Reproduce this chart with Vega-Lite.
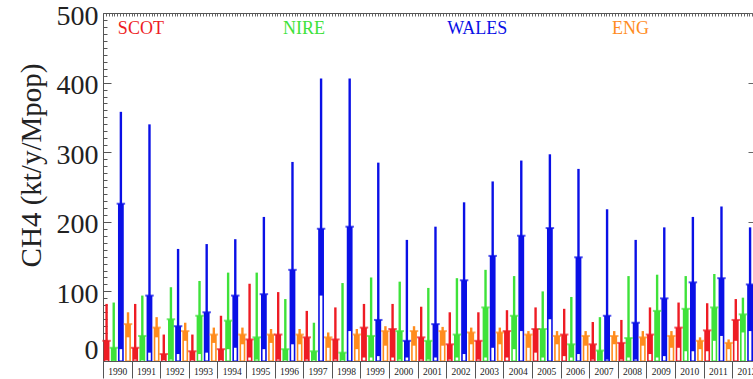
{
  "$schema": "https://vega.github.io/schema/vega-lite/v6.json",
  "autosize": "none",
  "width": 650,
  "height": 348,
  "padding": {"left": 103, "top": 13, "right": 0, "bottom": 18},
  "background": "white",
  "config": {"view": {"stroke": null}, "axis": {"grid": false}},
  "datasets": {
    "ch4": [
      {"year": 1990, "series": "SCOT", "hi": 82, "q1": 0, "q3": 29},
      {"year": 1990, "series": "NIRE", "hi": 84, "q1": 1, "q3": 19},
      {"year": 1990, "series": "WALES", "hi": 358, "q1": 17, "q3": 226},
      {"year": 1990, "series": "ENG", "hi": 70, "q1": 34, "q3": 53},
      {"year": 1991, "series": "SCOT", "hi": 82, "q1": 2, "q3": 19},
      {"year": 1991, "series": "NIRE", "hi": 94, "q1": 0, "q3": 36},
      {"year": 1991, "series": "WALES", "hi": 340, "q1": 12, "q3": 94},
      {"year": 1991, "series": "ENG", "hi": 63, "q1": 34, "q3": 48},
      {"year": 1992, "series": "SCOT", "hi": 38, "q1": 0, "q3": 10},
      {"year": 1992, "series": "NIRE", "hi": 106, "q1": 2, "q3": 60},
      {"year": 1992, "series": "WALES", "hi": 161, "q1": 10, "q3": 50},
      {"year": 1992, "series": "ENG", "hi": 55, "q1": 29, "q3": 43},
      {"year": 1993, "series": "SCOT", "hi": 38, "q1": 0, "q3": 14},
      {"year": 1993, "series": "NIRE", "hi": 115, "q1": 10, "q3": 65},
      {"year": 1993, "series": "WALES", "hi": 168, "q1": 12, "q3": 70},
      {"year": 1993, "series": "ENG", "hi": 48, "q1": 26, "q3": 38},
      {"year": 1994, "series": "SCOT", "hi": 65, "q1": 0, "q3": 17},
      {"year": 1994, "series": "NIRE", "hi": 127, "q1": 17, "q3": 58},
      {"year": 1994, "series": "WALES", "hi": 175, "q1": 19, "q3": 94},
      {"year": 1994, "series": "ENG", "hi": 48, "q1": 24, "q3": 38},
      {"year": 1995, "series": "SCOT", "hi": 111, "q1": 5, "q3": 31},
      {"year": 1995, "series": "NIRE", "hi": 127, "q1": 2, "q3": 34},
      {"year": 1995, "series": "WALES", "hi": 207, "q1": 17, "q3": 96},
      {"year": 1995, "series": "ENG", "hi": 46, "q1": 26, "q3": 38},
      {"year": 1996, "series": "SCOT", "hi": 99, "q1": 2, "q3": 38},
      {"year": 1996, "series": "NIRE", "hi": 89, "q1": 0, "q3": 17},
      {"year": 1996, "series": "WALES", "hi": 286, "q1": 24, "q3": 131},
      {"year": 1996, "series": "ENG", "hi": 46, "q1": 24, "q3": 38},
      {"year": 1997, "series": "SCOT", "hi": 72, "q1": 2, "q3": 34},
      {"year": 1997, "series": "NIRE", "hi": 55, "q1": 0, "q3": 14},
      {"year": 1997, "series": "WALES", "hi": 406, "q1": 94, "q3": 190},
      {"year": 1997, "series": "ENG", "hi": 41, "q1": 19, "q3": 34},
      {"year": 1998, "series": "SCOT", "hi": 77, "q1": 2, "q3": 31},
      {"year": 1998, "series": "NIRE", "hi": 112, "q1": 0, "q3": 12},
      {"year": 1998, "series": "WALES", "hi": 406, "q1": 43, "q3": 193},
      {"year": 1998, "series": "ENG", "hi": 46, "q1": 17, "q3": 38},
      {"year": 1999, "series": "SCOT", "hi": 82, "q1": 5, "q3": 48},
      {"year": 1999, "series": "NIRE", "hi": 120, "q1": 5, "q3": 36},
      {"year": 1999, "series": "WALES", "hi": 285, "q1": 7, "q3": 59},
      {"year": 1999, "series": "ENG", "hi": 50, "q1": 22, "q3": 43},
      {"year": 2000, "series": "SCOT", "hi": 82, "q1": 5, "q3": 46},
      {"year": 2000, "series": "NIRE", "hi": 114, "q1": 2, "q3": 43},
      {"year": 2000, "series": "WALES", "hi": 174, "q1": 5, "q3": 29},
      {"year": 2000, "series": "ENG", "hi": 50, "q1": 22, "q3": 43},
      {"year": 2001, "series": "SCOT", "hi": 78, "q1": 2, "q3": 34},
      {"year": 2001, "series": "NIRE", "hi": 105, "q1": 2, "q3": 29},
      {"year": 2001, "series": "WALES", "hi": 193, "q1": 5, "q3": 53},
      {"year": 2001, "series": "ENG", "hi": 49, "q1": 22, "q3": 43},
      {"year": 2002, "series": "SCOT", "hi": 70, "q1": 2, "q3": 24},
      {"year": 2002, "series": "NIRE", "hi": 119, "q1": 5, "q3": 38},
      {"year": 2002, "series": "WALES", "hi": 228, "q1": 10, "q3": 116},
      {"year": 2002, "series": "ENG", "hi": 48, "q1": 24, "q3": 41},
      {"year": 2003, "series": "SCOT", "hi": 70, "q1": 2, "q3": 29},
      {"year": 2003, "series": "NIRE", "hi": 131, "q1": 5, "q3": 77},
      {"year": 2003, "series": "WALES", "hi": 258, "q1": 19, "q3": 151},
      {"year": 2003, "series": "ENG", "hi": 48, "q1": 24, "q3": 41},
      {"year": 2004, "series": "SCOT", "hi": 73, "q1": 5, "q3": 43},
      {"year": 2004, "series": "NIRE", "hi": 122, "q1": 17, "q3": 65},
      {"year": 2004, "series": "WALES", "hi": 288, "q1": 43, "q3": 180},
      {"year": 2004, "series": "ENG", "hi": 43, "q1": 19, "q3": 38},
      {"year": 2005, "series": "SCOT", "hi": 77, "q1": 12, "q3": 46},
      {"year": 2005, "series": "NIRE", "hi": 100, "q1": 5, "q3": 46},
      {"year": 2005, "series": "WALES", "hi": 297, "q1": 60, "q3": 191},
      {"year": 2005, "series": "ENG", "hi": 43, "q1": 24, "q3": 36},
      {"year": 2006, "series": "SCOT", "hi": 75, "q1": 7, "q3": 38},
      {"year": 2006, "series": "NIRE", "hi": 92, "q1": 5, "q3": 24},
      {"year": 2006, "series": "WALES", "hi": 276, "q1": 10, "q3": 149},
      {"year": 2006, "series": "ENG", "hi": 43, "q1": 22, "q3": 36},
      {"year": 2007, "series": "SCOT", "hi": 56, "q1": 2, "q3": 24},
      {"year": 2007, "series": "NIRE", "hi": 63, "q1": 1, "q3": 15},
      {"year": 2007, "series": "WALES", "hi": 218, "q1": 2, "q3": 65},
      {"year": 2007, "series": "ENG", "hi": 43, "q1": 24, "q3": 36},
      {"year": 2008, "series": "SCOT", "hi": 59, "q1": 2, "q3": 26},
      {"year": 2008, "series": "NIRE", "hi": 122, "q1": 5, "q3": 33},
      {"year": 2008, "series": "WALES", "hi": 174, "q1": 2, "q3": 55},
      {"year": 2008, "series": "ENG", "hi": 43, "q1": 22, "q3": 34},
      {"year": 2009, "series": "SCOT", "hi": 77, "q1": 10, "q3": 38},
      {"year": 2009, "series": "NIRE", "hi": 124, "q1": 5, "q3": 72},
      {"year": 2009, "series": "WALES", "hi": 192, "q1": 7, "q3": 90},
      {"year": 2009, "series": "ENG", "hi": 43, "q1": 19, "q3": 36},
      {"year": 2010, "series": "SCOT", "hi": 84, "q1": 19, "q3": 48},
      {"year": 2010, "series": "NIRE", "hi": 122, "q1": 14, "q3": 75},
      {"year": 2010, "series": "WALES", "hi": 207, "q1": 14, "q3": 113},
      {"year": 2010, "series": "ENG", "hi": 34, "q1": 17, "q3": 29},
      {"year": 2011, "series": "SCOT", "hi": 83, "q1": 14, "q3": 44},
      {"year": 2011, "series": "NIRE", "hi": 125, "q1": 29, "q3": 77},
      {"year": 2011, "series": "WALES", "hi": 222, "q1": 36, "q3": 119},
      {"year": 2011, "series": "ENG", "hi": 31, "q1": 17, "q3": 26},
      {"year": 2012, "series": "SCOT", "hi": 89, "q1": 29, "q3": 59},
      {"year": 2012, "series": "NIRE", "hi": 91, "q1": 41, "q3": 67},
      {"year": 2012, "series": "WALES", "hi": 192, "q1": 43, "q3": 110}
    ]
  },
  "resolve": {"scale": {"x": "independent"}, "axis": {"y": "independent", "x": "independent"}},
  "layer": [
    {
      "data": {"name": "ch4"},
      "mark": {"type": "rule", "strokeWidth": 2.4},
      "encoding": {
        "x": {
          "field": "year", "type": "ordinal",
          "scale": {"range": [0, 657.8], "paddingInner": 0, "paddingOuter": 0},
          "axis": {
            "orient": "bottom", "title": null, "labelAngle": 0, "labelOverlap": false, "grid": false,
            "tickBand": "extent", "tickSize": 17, "tickColor": "#555", "domainColor": "#555",
            "labelFont": "Liberation Serif", "labelFontSize": 9.5, "labelColor": "#222",
            "labelPadding": -12, "labelBaseline": "top"
          }
        },
        "xOffset": {"field": "series", "type": "nominal", "scale": {"domain": ["SCOT", "NIRE", "WALES", "ENG"], "paddingInner": 0, "paddingOuter": 0}},
        "color": {
          "field": "series", "type": "nominal", "legend": null,
          "scale": {"domain": ["SCOT", "NIRE", "WALES", "ENG"], "range": ["#ee1c24", "#3ee23a", "#0a10e6", "#ff8c1e"]}
        },
        "y": {
          "field": "hi", "type": "quantitative",
          "scale": {"domain": [0, 500], "nice": false, "zero": true},
          "axis": {
            "orient": "left", "title": "CH4 (kt/y/Mpop)", "grid": false,
            "values": [0,10,20,30,40,50,60,70,80,90,100,110,120,130,140,150,160,170,180,190,200,210,220,230,240,250,260,270,280,290,300,310,320,330,340,350,360,370,380,390,400,410,420,430,440,450,460,470,480,490,500],
            "labelExpr": "datum.value % 100 == 0 ? datum.label : ''",
            "tickSize": {"condition": {"test": "datum.value % 100 == 0", "value": -8}, "value": -4},
            "tickColor": "#555", "domainColor": "#555",
            "labelFont": "Liberation Serif", "labelFontSize": 28, "labelColor": "#222",
            "labelPadding": 13,
            "labelOffset": {"condition": {"test": "datum.value == 0", "value": -11}, "value": 3},
            "labelOverlap": false,
            "titleFont": "Liberation Serif", "titleFontSize": 29, "titleFontWeight": "normal", "titleColor": "#222",
            "titleX": -72, "titleY": 152, "titleAlign": "center", "titleBaseline": "middle", "titleAngle": -90
          }
        },
        "y2": {"datum": 0}
      }
    },
    {
      "data": {"name": "ch4"},
      "mark": {"type": "bar", "width": 5.8},
      "encoding": {
        "x": {"field": "year", "type": "ordinal", "scale": {"range": [0, 657.8], "paddingInner": 0, "paddingOuter": 0}, "axis": null},
        "xOffset": {"field": "series", "type": "nominal", "scale": {"domain": ["SCOT", "NIRE", "WALES", "ENG"], "paddingInner": 0, "paddingOuter": 0}},
        "color": {"field": "series", "type": "nominal", "legend": null},
        "y": {"field": "q3", "type": "quantitative", "axis": null},
        "y2": {"datum": 0}
      }
    },
    {
      "data": {"name": "ch4"},
      "mark": {"type": "bar", "width": 2.6, "xOffset": 1.2, "color": "white"},
      "encoding": {
        "x": {"field": "year", "type": "ordinal", "scale": {"range": [0, 657.8], "paddingInner": 0, "paddingOuter": 0}, "axis": null},
        "xOffset": {"field": "series", "type": "nominal", "scale": {"domain": ["SCOT", "NIRE", "WALES", "ENG"], "paddingInner": 0, "paddingOuter": 0}},
        "y": {"field": "q1", "type": "quantitative", "axis": null},
        "y2": {"datum": 0.8}
      }
    },
    {
      "data": {"name": "ch4"},
      "mark": {"type": "tick", "size": 8.5, "thickness": 2},
      "encoding": {
        "x": {"field": "year", "type": "ordinal", "scale": {"range": [0, 657.8], "paddingInner": 0, "paddingOuter": 0}, "axis": null},
        "xOffset": {"field": "series", "type": "nominal", "scale": {"domain": ["SCOT", "NIRE", "WALES", "ENG"], "paddingInner": 0, "paddingOuter": 0}},
        "color": {"field": "series", "type": "nominal", "legend": null},
        "y": {"field": "q3", "type": "quantitative", "axis": null}
      }
    },
    {
      "data": {"values": [{"label": "SCOT"}]},
      "mark": {"type": "text", "align": "left", "baseline": "alphabetic", "font": "Liberation Serif", "fontSize": 18, "color": "#ee1c24"},
      "encoding": {
        "text": {"field": "label"},
        "x": {
          "datum": 1990.52, "type": "quantitative",
          "scale": {"domain": [1990, 2013], "range": [0, 657.8], "nice": false, "zero": false},
          "axis": {"orient": "top", "title": null, "labels": false, "tickCount": 276, "tickSize": -3, "tickColor": "#666", "domainColor": "#555", "grid": false}
        },
        "y": {
          "datum": 470, "type": "quantitative",
          "axis": {"orient": "right", "title": null, "labels": false, "values": [0, 100, 200, 300, 400, 500], "tickSize": -5, "tickColor": "#666", "domainColor": "#555", "grid": false}
        }
      }
    },
    {
      "data": {"values": [{"label": "NIRE"}]},
      "mark": {"type": "text", "align": "left", "baseline": "alphabetic", "font": "Liberation Serif", "fontSize": 18, "color": "#3ee23a"},
      "encoding": {
        "text": {"field": "label"},
        "x": {"datum": 1996.29, "type": "quantitative", "scale": {"domain": [1990, 2013], "range": [0, 657.8], "nice": false, "zero": false}, "axis": null},
        "y": {"datum": 470, "type": "quantitative", "axis": null}
      }
    },
    {
      "data": {"values": [{"label": "WALES"}]},
      "mark": {"type": "text", "align": "left", "baseline": "alphabetic", "font": "Liberation Serif", "fontSize": 18, "color": "#0a10e6"},
      "encoding": {
        "text": {"field": "label"},
        "x": {"datum": 2002.04, "type": "quantitative", "scale": {"domain": [1990, 2013], "range": [0, 657.8], "nice": false, "zero": false}, "axis": null},
        "y": {"datum": 470, "type": "quantitative", "axis": null}
      }
    },
    {
      "data": {"values": [{"label": "ENG"}]},
      "mark": {"type": "text", "align": "left", "baseline": "alphabetic", "font": "Liberation Serif", "fontSize": 18, "color": "#ff8c1e"},
      "encoding": {
        "text": {"field": "label"},
        "x": {"datum": 2007.8, "type": "quantitative", "scale": {"domain": [1990, 2013], "range": [0, 657.8], "nice": false, "zero": false}, "axis": null},
        "y": {"datum": 470, "type": "quantitative", "axis": null}
      }
    }
  ]
}
